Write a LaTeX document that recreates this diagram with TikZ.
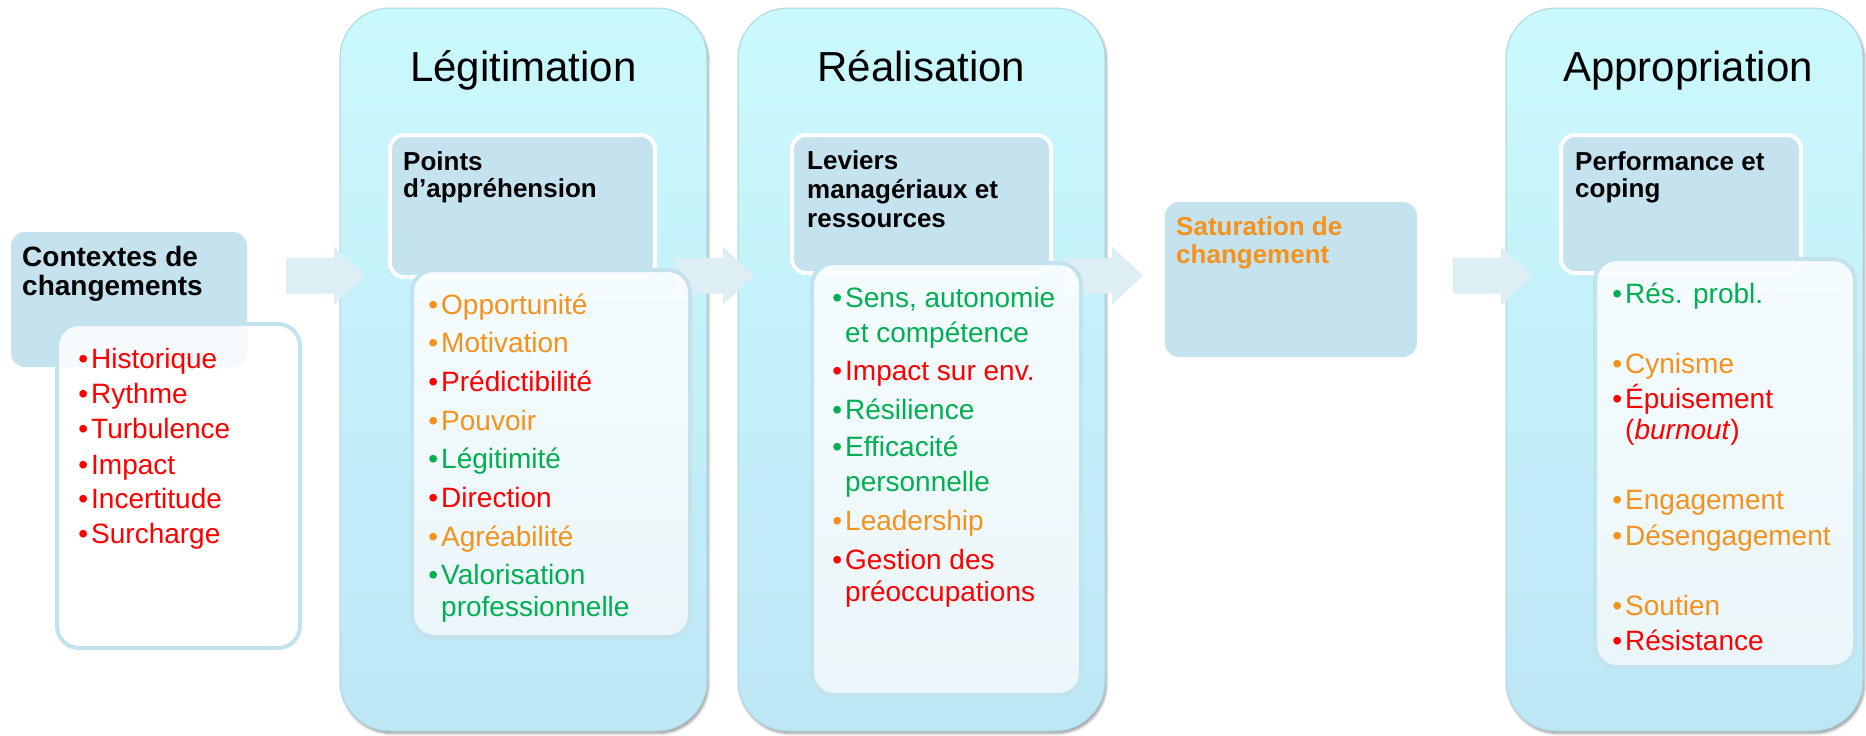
\documentclass[tikz,border=0pt]{standalone}
\usepackage{fontspec}
\setmainfont{Liberation Sans}
\usetikzlibrary{shadows.blur}
\definecolor{cyanT}{RGB}{202,249,253}
\definecolor{cyanB}{RGB}{189,231,245}
\definecolor{bigline}{RGB}{172,214,228}
\definecolor{hdrfill}{RGB}{197,227,238}
\definecolor{lstline}{RGB}{194,226,238}
\definecolor{lstT}{RGB}{251,254,255}
\definecolor{lstB}{RGB}{240,248,251}
\definecolor{arrfill}{RGB}{221,238,245}
\definecolor{cred}{RGB}{255,0,0}
\definecolor{corange}{RGB}{244,146,28}
\definecolor{cgreen}{RGB}{0,176,80}
\newcommand\bulx{\llap{•\hspace{3pt}}}
\tikzset{
  bigbox/.style={rounded corners=50pt, draw=bigline, line width=1pt, top color=cyanT, bottom color=cyanB,
    anchor=north west, inner sep=0, outer sep=0,
    blur shadow={shadow xshift=1.5pt, shadow yshift=-2.5pt, shadow opacity=40, shadow blur radius=2.5pt}},
  hdrbox/.style={rounded corners=14pt, draw=white, line width=4pt, fill=hdrfill, anchor=north west, inner sep=0, outer sep=0},
  lstbox/.style={rounded corners=22pt, draw=lstline, line width=4pt, top color=lstT, bottom color=lstB,
    fill opacity=0.9, anchor=north west, inner sep=0, outer sep=0},
  arrowshape/.style={fill=arrfill},
  titletext/.style={font=\fontsize{42}{48}\selectfont, anchor=base, inner sep=0},
  hdtext/.style={font=\bfseries\fontsize{26}{28}\selectfont, anchor=base west, inner sep=0},
  hdbig/.style={font=\bfseries\fontsize{28}{30}\selectfont, anchor=base west, inner sep=0},
  ittext/.style={font=\fontsize{28}{32}\selectfont, anchor=base west, inner sep=0},
}
\begin{document}
\begin{tikzpicture}[x=1pt,y=-1pt]
\useasboundingbox (0,0) rectangle (1866,736);
% big stage boxes
\node[bigbox, minimum width=367pt, minimum height=723pt] (leg) at (340,8) {};
\node[bigbox, minimum width=367pt, minimum height=723pt] (rea) at (738,8) {};
\node[bigbox, minimum width=357pt, minimum height=723pt] (app) at (1506,8) {};
% block arrows
\foreach \s in {286,675,1064,1453}{
  \fill[arrowshape] (\s,257.9) -- (\s+48,257.9) -- (\s+48,246.5) -- (\s+79,275.7)
     -- (\s+48,304.9) -- (\s+48,293.5) -- (\s,293.5) -- cycle;
}
% header boxes
\node[hdrbox, draw=none, minimum width=236pt, minimum height=135pt] (ctxH) at (11,232) {};
\node[hdrbox, minimum width=265pt, minimum height=142pt] (legH) at (390,135) {};
\node[hdrbox, minimum width=259pt, minimum height=138pt] (reaH) at (792,135) {};
\node[hdrbox, minimum width=240pt, minimum height=138pt] (appH) at (1561,135) {};
\node[hdrbox, draw=none, minimum width=252pt, minimum height=155pt] (sat) at (1165,202) {};
% list boxes
\node[lstbox, top color=white, bottom color=white, fill opacity=0.85, minimum width=243pt, minimum height=324pt] (ctxL) at (57,324) {};
\node[lstbox, minimum width=278pt, minimum height=367pt] (legL) at (412,270) {};
\node[lstbox, minimum width=269pt, minimum height=432pt] (reaL) at (812,263) {};
\node[lstbox, minimum width=260pt, minimum height=408pt] (appL) at (1595,259) {};
% titles
\node[titletext] (legT) at (523.5,81) {Légitimation};
\node[titletext] (reaT) at (921.5,81) {Réalisation};
\node[titletext] (appT) at (1688,81) {Appropriation};
% header texts
\node[hdbig] (ctx1) at (22,266) {Contextes de};
\node[hdbig] (ctx2) at (22,295) {changements};
\node[hdtext] (legh1) at (403,170) {Points};
\node[hdtext] (legh2) at (403,197) {d’appréhension};
\node[hdtext] (reah1) at (807,169) {Leviers};
\node[hdtext] (reah2) at (807,198) {managériaux et};
\node[hdtext] (reah3) at (807,227) {ressources};
\node[hdtext] (apph1) at (1575,170) {Performance et};
\node[hdtext] (apph2) at (1575,197) {coping};
\node[hdtext, text=corange] (sat1) at (1176,235) {Saturation de};
\node[hdtext, text=corange] (sat2) at (1176,263) {changement};
% Contextes list
\node[ittext, text=cred] (c1) at (91,368) {\bulx Historique};
\node[ittext, text=cred] (c2) at (91,403) {\bulx Rythme};
\node[ittext, text=cred] (c3) at (91,438) {\bulx Turbulence};
\node[ittext, text=cred] (c4) at (91,474) {\bulx Impact};
\node[ittext, text=cred] (c5) at (91,508) {\bulx Incertitude};
\node[ittext, text=cred] (c6) at (91,543) {\bulx Surcharge};
% Legitimation list
\node[ittext, text=corange] (l1) at (441,314) {\bulx Opportunité};
\node[ittext, text=corange] (l2) at (441,352) {\bulx Motivation};
\node[ittext, text=cred] (l3) at (441,391) {\bulx Prédictibilité};
\node[ittext, text=corange] (l4) at (441,430) {\bulx Pouvoir};
\node[ittext, text=cgreen] (l5) at (441,468) {\bulx Légitimité};
\node[ittext, text=cred] (l6) at (441,507) {\bulx Direction};
\node[ittext, text=corange] (l7) at (441,546) {\bulx Agréabilité};
\node[ittext, text=cgreen] (l8) at (441,584) {\bulx Valorisation};
\node[ittext, text=cgreen] (l8b) at (441,616) {professionnelle};
% Realisation list
\node[ittext, text=cgreen] (r1) at (845,307.5) {\bulx Sens, autonomie};
\node[ittext, text=cgreen] (r1b) at (845,342) {et compétence};
\node[ittext, text=cred] (r2) at (845,380) {\bulx Impact sur env.};
\node[ittext, text=cgreen] (r3) at (845,419) {\bulx Résilience};
\node[ittext, text=cgreen] (r4) at (845,456) {\bulx Efficacité};
\node[ittext, text=cgreen] (r4b) at (845,491) {personnelle};
\node[ittext, text=corange] (r5) at (845,530) {\bulx Leadership};
\node[ittext, text=cred] (r6) at (845,569) {\bulx Gestion des};
\node[ittext, text=cred] (r6b) at (845,601) {préoccupations};
% Appropriation list
\node[ittext, text=cgreen] (a1) at (1625,303) {\bulx Rés. probl.};
\node[ittext, text=corange] (a2) at (1625,373) {\bulx Cynisme};
\node[ittext, text=cred] (a3) at (1625,408.5) {\bulx Épuisement};
\node[ittext, text=cred] (a3b) at (1625,439) {(\textit{burnout})};
\node[ittext, text=corange] (a4) at (1625,509) {\bulx Engagement};
\node[ittext, text=corange] (a5) at (1625,545) {\bulx Désengagement};
\node[ittext, text=corange] (a6) at (1625,615) {\bulx Soutien};
\node[ittext, text=cred] (a7) at (1625,650) {\bulx Résistance};
\end{tikzpicture}
\end{document}
